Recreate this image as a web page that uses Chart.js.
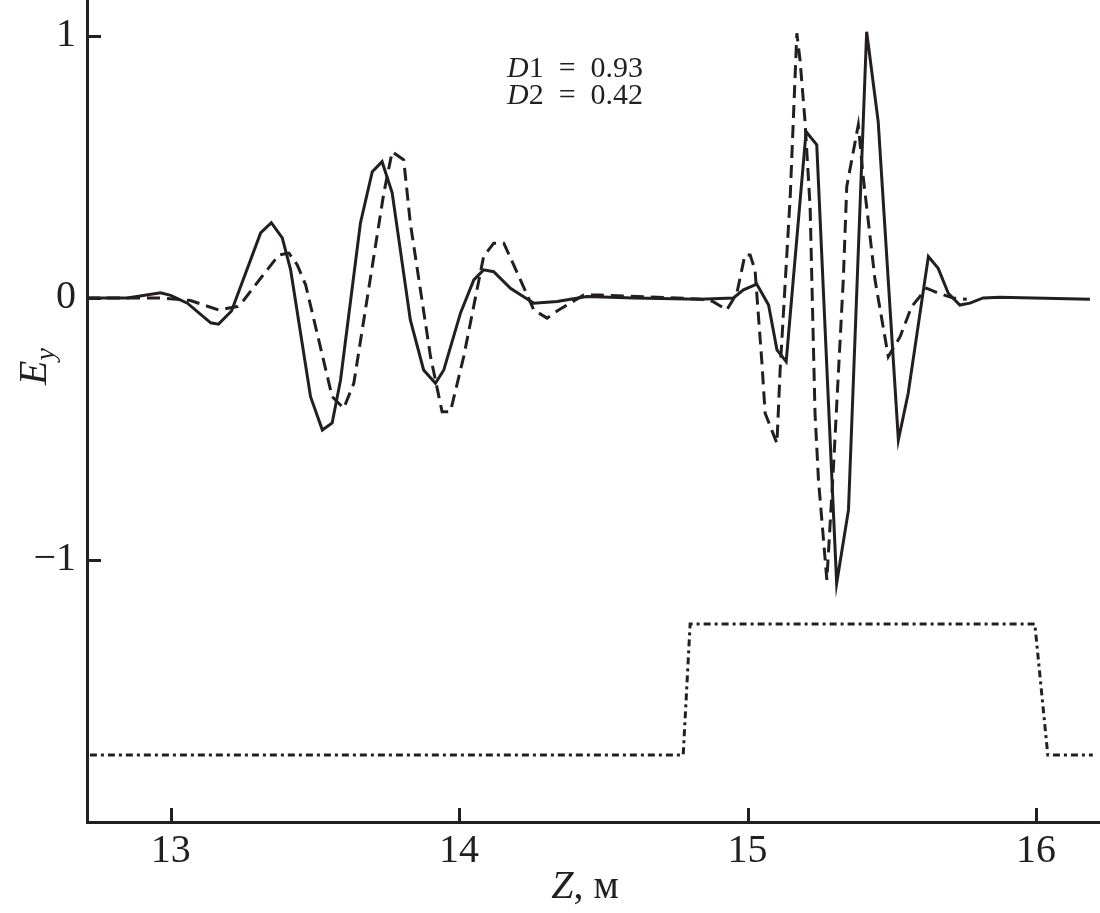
<!DOCTYPE html>
<html>
<head>
<meta charset="utf-8">
<script src="https://cdn.jsdelivr.net/npm/chart.js@4.4.1/dist/chart.umd.min.js"></script>
<style>
  html, body { margin: 0; padding: 0; background: #fff; }
  #wrap { width: 1100px; height: 913px; position: relative; }
</style>
</head>
<body>
<div id="wrap"><canvas id="c" width="1100" height="913"></canvas></div>
<script>
// ---- data ----
const solidZ = [12.71, 12.85, 12.965, 13.0, 13.058, 13.139, 13.166, 13.211, 13.312, 13.349, 13.387, 13.416, 13.485, 13.526, 13.560, 13.589, 13.658, 13.699, 13.733, 13.768, 13.831, 13.877, 13.918, 13.947, 14.005, 14.051, 14.085, 14.120, 14.178, 14.259, 14.340, 14.443, 14.605, 14.832, 14.951, 14.986, 15.032, 15.073, 15.102, 15.134, 15.203, 15.240, 15.309, 15.350, 15.413, 15.453, 15.523, 15.557, 15.627, 15.661, 15.696, 15.736, 15.771, 15.817, 15.875, 16.187];
const solidE = [0.0, 0.0, 0.02, 0.01, -0.02, -0.095, -0.10, -0.05, 0.248, 0.287, 0.229, 0.107, -0.377, -0.504, -0.477, -0.313, 0.286, 0.482, 0.520, 0.401, -0.084, -0.275, -0.326, -0.275, -0.057, 0.069, 0.107, 0.100, 0.037, -0.020, -0.014, 0.005, 0.0, -0.005, 0.0, 0.031, 0.053, -0.027, -0.198, -0.243, 0.635, 0.584, -1.089, -0.809, 1.016, 0.673, -0.542, -0.364, 0.158, 0.113, 0.018, -0.027, -0.020, 0.0, 0.003, -0.005];

const dashZ = [12.71, 12.965, 13.069, 13.167, 13.231, 13.254, 13.312, 13.375, 13.410, 13.439, 13.468, 13.560, 13.600, 13.635, 13.739, 13.768, 13.808, 13.831, 13.901, 13.941, 13.970, 14.016, 14.085, 14.120, 14.155, 14.218, 14.259, 14.305, 14.345, 14.432, 14.490, 14.832, 14.881, 14.928, 14.963, 14.991, 15.009, 15.026, 15.050, 15.061, 15.102, 15.113, 15.148, 15.171, 15.182, 15.199, 15.217, 15.234, 15.246, 15.275, 15.298, 15.332, 15.344, 15.384, 15.401, 15.442, 15.488, 15.529, 15.569, 15.621, 15.661, 15.713, 15.760];
const dashE = [0.0, 0.0, -0.01, -0.046, -0.033, -0.008, 0.075, 0.164, 0.171, 0.126, 0.050, -0.377, -0.421, -0.326, 0.400, 0.558, 0.527, 0.285, -0.224, -0.434, -0.434, -0.224, 0.158, 0.209, 0.209, 0.056, -0.046, -0.077, -0.046, 0.011, 0.011, -0.004, -0.014, -0.046, 0.018, 0.164, 0.164, 0.107, -0.249, -0.440, -0.555, -0.275, 0.387, 1.010, 0.908, 0.679, 0.348, -0.440, -0.695, -1.076, -0.644, 0.069, 0.425, 0.660, 0.463, 0.069, -0.224, -0.148, -0.033, 0.037, 0.018, 0.0, -0.005];

const profileZ = [12.72, 14.777, 14.801, 15.996, 16.041, 16.197];
const profileE = [-1.744, -1.744, -1.244, -1.244, -1.744, -1.744];

const xTicks = [13, 14, 15, 16];
const yTicks = [1, 0, -1];
const annotationLines = [["D", "1\u2002=\u20020.93"], ["D", "2\u2002=\u20020.42"]];
const xTitle = ["Z", ", м"];
const yTitle = ["E", "y"];

const INK = '#231f20';
const SERIF = '"Liberation Serif", "DejaVu Serif", serif';

function pts(xs, ys) { return xs.map((x, i) => ({ x: x, y: ys[i] })); }

const decor = {
  id: 'decor',
  afterDraw(chart) {
    const ctx = chart.ctx;
    const xs = chart.scales.x, ys = chart.scales.y;
    const ca = chart.chartArea;
    ctx.save();
    ctx.strokeStyle = INK;
    ctx.lineWidth = 3;
    ctx.lineCap = 'butt';
    // inward tick marks
    xTicks.forEach(v => {
      const px = Math.round(xs.getPixelForValue(v)) + 0.5;
      ctx.beginPath(); ctx.moveTo(px, ca.bottom); ctx.lineTo(px, ca.bottom - 14); ctx.stroke();
    });
    yTicks.forEach(v => {
      const py = Math.round(ys.getPixelForValue(v)) + 0.5;
      ctx.beginPath(); ctx.moveTo(ca.left, py); ctx.lineTo(ca.left + 14, py); ctx.stroke();
    });
    ctx.fillStyle = INK;
    ctx.textBaseline = 'alphabetic';
    ctx.textAlign = 'left';
    // annotation
    let ay = 77;
    annotationLines.forEach(parts => {
      let ax = 507;
      ctx.font = 'italic 30px ' + SERIF;
      ctx.fillText(parts[0], ax, ay);
      ax += ctx.measureText(parts[0]).width;
      ctx.font = '30px ' + SERIF;
      ctx.fillText(parts[1], ax, ay);
      ay += 26.5;
    });
    // x title
    ctx.font = 'italic 40px ' + SERIF;
    const w1 = ctx.measureText(xTitle[0]).width;
    ctx.font = '40px ' + SERIF;
    const w2 = ctx.measureText(xTitle[1]).width;
    let tx = 585 - (w1 + w2) / 2;
    ctx.font = 'italic 40px ' + SERIF;
    ctx.fillText(xTitle[0], tx, 898);
    ctx.font = '40px ' + SERIF;
    ctx.fillText(xTitle[1], tx + w1, 898);
    // y title (rotated)
    ctx.translate(46, 385);
    ctx.rotate(-Math.PI / 2);
    ctx.font = 'italic 40px ' + SERIF;
    ctx.fillText(yTitle[0], 0, 0);
    const we = ctx.measureText(yTitle[0]).width;
    ctx.font = 'italic 28px ' + SERIF;
    ctx.fillText(yTitle[1], we, 8);
    ctx.restore();
  }
};

new Chart(document.getElementById('c'), {
  type: 'scatter',
  data: {
    datasets: [
      { data: pts(solidZ, solidE), showLine: true, borderColor: INK, borderWidth: 3, pointRadius: 0, tension: 0, borderJoinStyle: 'miter' },
      { data: pts(dashZ, dashE), showLine: true, borderColor: INK, borderWidth: 3, pointRadius: 0, tension: 0, borderDash: [13, 7] },
      { data: pts(profileZ, profileE), showLine: true, borderColor: INK, borderWidth: 3, pointRadius: 0, tension: 0, borderDash: [7, 4, 3, 4] }
    ]
  },
  options: {
    responsive: false,
    animation: false,
    events: [],
    layout: { padding: 0 },
    plugins: { legend: { display: false }, tooltip: { enabled: false }, title: { display: false } },
    scales: {
      x: {
        type: 'linear', min: 12.71, max: 16.222,
        afterFit(s) { s.height = 91; s.paddingLeft = 0; s.paddingRight = 0; },
        afterBuildTicks(s) { s.ticks = xTicks.map(v => ({ value: v })); },
        grid: { display: false, drawTicks: false },
        border: { display: true, color: INK, width: 3 },
        ticks: { color: INK, font: { family: SERIF, size: 40 }, padding: 5, maxRotation: 0, autoSkip: false,
                 callback: v => String(v) }
      },
      y: {
        type: 'linear', min: -2.0, max: 1.137,
        afterFit(s) { s.width = 87; s.paddingTop = 0; s.paddingBottom = 0; },
        afterBuildTicks(s) { s.ticks = yTicks.map(v => ({ value: v })); },
        grid: { display: false, drawTicks: false },
        border: { display: true, color: INK, width: 3 },
        ticks: { color: INK, font: { family: SERIF, size: 40 }, padding: 11, autoSkip: false,
                 callback: v => (v < 0 ? '\u2212' + Math.abs(v) : String(v)) }
      }
    }
  },
  plugins: [decor]
});
</script>
</body>
</html>
